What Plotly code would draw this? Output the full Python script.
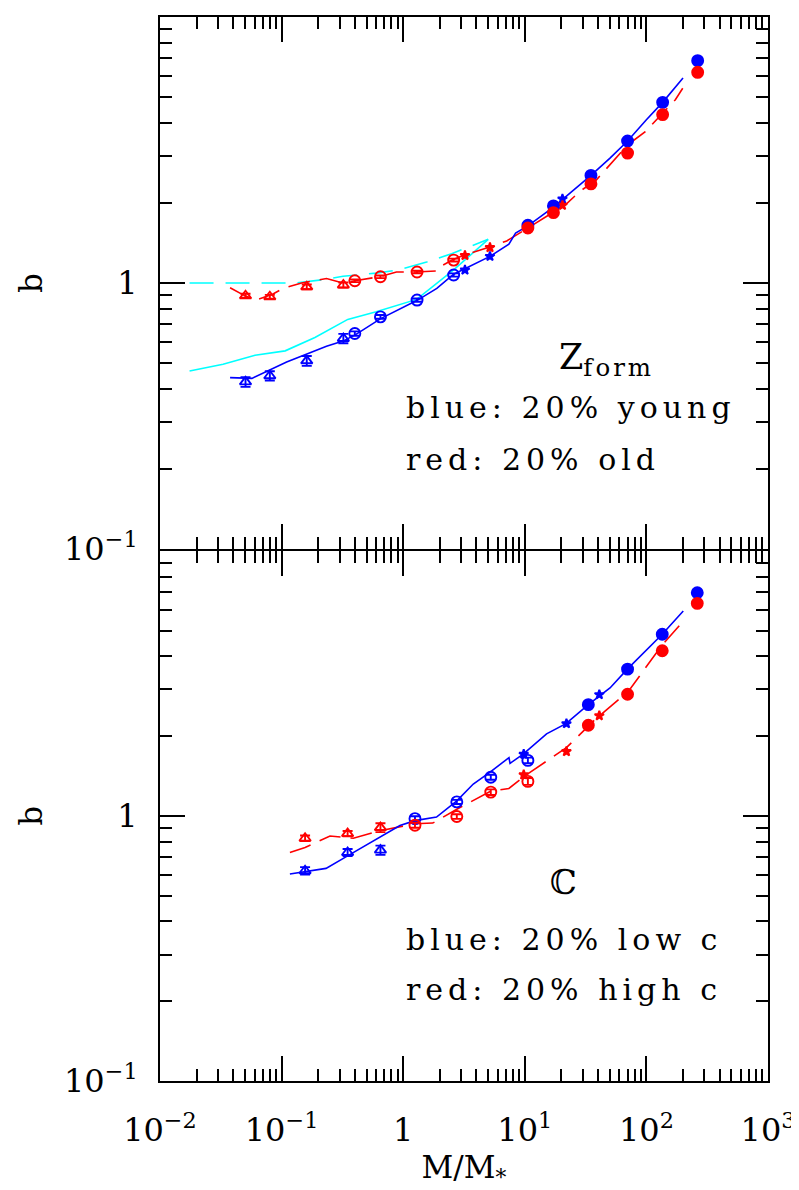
import plotly.graph_objects as go

# ---------------- data ----------------
# top panel: formation redshift split
zf_tri_x = [0.0505, 0.080, 0.161, 0.322]
zf_tri_blue = [0.425, 0.448, 0.51, 0.619]
zf_tri_blue_err = [0.018, 0.018, 0.022, 0.025]
zf_tri_red = [0.896, 0.888, 0.968, 0.983]
zf_tri_red_err = [0.015, 0.015, 0.02, 0.022]

zf_oc_x = [0.40, 0.65, 1.30, 2.60]
zf_oc_blue = [0.646, 0.746, 0.863, 1.072]
zf_oc_red = [1.02, 1.056, 1.10, 1.22]
zf_oc_err = [0.012, 0.012, 0.012, 0.015]

zf_st_x = [3.22, 5.17, 20.4]
zf_st_blue = [1.12, 1.26, 2.07]
zf_st_red = [1.27, 1.36, 1.96]

zf_fc_x = [10.6, 17.2, 35.0, 70.0, 136.0, 264.0]
zf_fc_blue = [1.65, 1.95, 2.54, 3.42, 4.78, 6.86]
zf_fc_red = [1.61, 1.84, 2.36, 3.08, 4.30, 6.20]

zf_blue_line_x = [0.0377, 0.057, 0.110, 0.234, 0.32, 0.406, 0.653, 1.315, 1.89, 2.6,
                  5.17, 7.4, 8.4, 10.6, 17.2, 20.1, 35.0, 50.2, 70.0, 100.0, 136.0, 200.0]
zf_blue_line_y = [0.441, 0.438, 0.505, 0.579, 0.605, 0.64, 0.735, 0.863, 0.955, 1.08,
                  1.26, 1.40, 1.54, 1.64, 1.93, 2.05, 2.54, 2.95, 3.42, 4.11, 4.78, 5.9]

zf_red_line_x = [0.0377, 0.050, 0.062, 0.085, 0.103, 0.146, 0.234, 0.32, 0.40, 0.50, 0.64,
                 0.88, 1.27, 1.89, 2.0, 2.53, 3.1, 5.0, 7.1, 10.6, 17.2, 21.9, 28.3,
                 38.7, 70.2, 98.0, 173.0, 199.0]
zf_red_line_y = [0.96, 0.895, 0.863, 0.909, 0.955, 1.0, 1.04, 1.0, 1.02, 1.04, 1.056,
                 1.10, 1.10, 1.11, 1.15, 1.22, 1.27, 1.36, 1.44, 1.61, 1.84, 1.98, 2.21,
                 2.44, 3.31, 3.71, 4.89, 5.40]

zf_cyan_solid_x = [0.0175, 0.033, 0.0605, 0.107, 0.188, 0.35, 0.60, 1.29, 2.6, 5.0]
zf_cyan_solid_y = [0.467, 0.495, 0.535, 0.556, 0.624, 0.73, 0.78, 0.868, 1.12, 1.46]

zf_cyan_dash_x = [0.0175, 0.13, 0.22, 0.32, 0.60, 0.91, 1.56, 2.5, 5.0]
zf_cyan_dash_y = [1.0, 1.0, 1.03, 1.06, 1.09, 1.12, 1.20, 1.29, 1.46]

# bottom panel: concentration split
c_tri_x = [0.156, 0.349, 0.65]
c_tri_blue = [0.621, 0.728, 0.743]
c_tri_blue_err = [0.02, 0.022, 0.03]
c_tri_red = [0.824, 0.858, 0.904]
c_tri_red_err = [0.02, 0.02, 0.035]

c_oc_x = [1.25, 2.76, 5.25, 10.6]
c_oc_blue = [0.977, 1.13, 1.40, 1.62]
c_oc_red = [0.923, 0.995, 1.23, 1.35]
c_oc_err = [0.02, 0.02, 0.03, 0.04]

c_st_x = [9.8, 22.0, 41.0]
c_st_blue = [1.71, 2.23, 2.87]
c_st_red = [1.43, 1.75, 2.39]

c_fc_x = [33.3, 70.0, 135.0, 262.0]
c_fc_blue = [2.63, 3.58, 4.85, 6.95]
c_fc_red = [2.20, 2.88, 4.20, 6.34]

c_blue_line_x = [0.117, 0.232, 0.349, 0.94, 1.25, 1.88, 2.76, 3.77, 5.25, 7.41, 7.56,
                 9.7, 15.1, 21.8, 33.3, 50.2, 69.7, 135.0, 201.0]
c_blue_line_y = [0.604, 0.634, 0.707, 0.92, 0.96, 0.99, 1.14, 1.32, 1.47, 1.66, 1.58,
                 1.71, 2.04, 2.23, 2.63, 3.04, 3.58, 4.85, 5.93]

c_red_line_x = [0.117, 0.156, 0.25, 0.389, 0.65, 1.25, 1.75, 2.76, 5.25, 7.4, 10.3,
                22.0, 36.7, 71.0, 135.0, 201.0]
c_red_line_y = [0.728, 0.76, 0.84, 0.824, 0.88, 0.935, 0.94, 1.06, 1.24, 1.27, 1.43,
                1.81, 2.28, 2.95, 4.42, 5.43]

# tick labels
x_tickvals = [0.01, 0.1, 1, 10, 100, 1000]
x_ticktext = ["10<sup>\u22122</sup>", "10<sup>\u22121</sup>", "1",
              "10<sup>1</sup>", "10<sup>2</sup>", "10<sup>3</sup>"]
y_tickvals = [0.1, 1, 10]
y_ticktext_top = ["10<sup>\u22121</sup>", "1", "10<sup>1</sup>"]
y_ticktext_bot = ["10<sup>\u22121</sup>", "1", ""]

# ---------------- figure ----------------
BLUE = "#0000ff"
RED = "#ff0000"
CYAN = "#00ffff"
FONT = "DejaVu Serif"
LW = 1.8

fig = go.Figure()


def line(x, y, color, dash, xa, ya):
    fig.add_trace(go.Scatter(x=x, y=y, mode="lines", xaxis=xa, yaxis=ya,
                             line=dict(color=color, width=1.6, dash=dash),
                             showlegend=False, hoverinfo="skip"))


def pts(x, y, color, symbol, size, xa, ya, err=None):
    fig.add_trace(go.Scatter(
        x=x, y=y, mode="markers", xaxis=xa, yaxis=ya,
        marker=dict(color=color, symbol=symbol, size=size,
                    line=dict(color=color, width=1.9)),
        error_y=dict(type="data", array=err, visible=err is not None,
                     color=color, thickness=1.9, width=5),
        showlegend=False))


# top panel
line(zf_cyan_dash_x, zf_cyan_dash_y, CYAN, "24px,12px", "x", "y")
line(zf_cyan_solid_x, zf_cyan_solid_y, CYAN, "solid", "x", "y")
line(zf_red_line_x, zf_red_line_y, RED, "22px,10px", "x", "y")
line(zf_blue_line_x, zf_blue_line_y, BLUE, "solid", "x", "y")
pts(zf_tri_x, zf_tri_blue, BLUE, "triangle-up-open", 10, "x", "y", zf_tri_blue_err)
pts(zf_tri_x, zf_tri_red, RED, "triangle-up-open", 10, "x", "y", zf_tri_red_err)
pts(zf_oc_x, zf_oc_blue, BLUE, "circle-open", 11, "x", "y", zf_oc_err)
pts(zf_oc_x, zf_oc_red, RED, "circle-open", 11, "x", "y", zf_oc_err)
pts(zf_st_x, zf_st_blue, BLUE, "star", 7, "x", "y")
pts(zf_st_x, zf_st_red, RED, "star", 7, "x", "y")
pts(zf_fc_x, zf_fc_blue, BLUE, "circle", 11, "x", "y")
pts(zf_fc_x, zf_fc_red, RED, "circle", 11, "x", "y")

# bottom panel
line(c_red_line_x, c_red_line_y, RED, "22px,10px", "x2", "y2")
line(c_blue_line_x, c_blue_line_y, BLUE, "solid", "x2", "y2")
pts(c_tri_x, c_tri_blue, BLUE, "triangle-up-open", 10, "x2", "y2", c_tri_blue_err)
pts(c_tri_x, c_tri_red, RED, "triangle-up-open", 10, "x2", "y2", c_tri_red_err)
pts(c_oc_x, c_oc_blue, BLUE, "circle-open", 11, "x2", "y2", c_oc_err)
pts(c_oc_x, c_oc_red, RED, "circle-open", 11, "x2", "y2", c_oc_err)
pts(c_st_x, c_st_blue, BLUE, "star", 7, "x2", "y2")
pts(c_st_x, c_st_red, RED, "star", 7, "x2", "y2")
pts(c_fc_x, c_fc_blue, BLUE, "circle", 11, "x2", "y2")
pts(c_fc_x, c_fc_red, RED, "circle", 11, "x2", "y2")

minor_x = [m * 10 ** e for e in range(-2, 3) for m in range(2, 10)]
minor_y = [m * 10 ** e for e in range(-1, 1) for m in range(2, 10)]

tickfont = dict(family=FONT, size=32, color="black")
common = dict(type="log", showgrid=False, zeroline=False, showline=True,
              linecolor="black", linewidth=LW, mirror="allticks",
              ticks="inside", ticklen=25, tickwidth=1.5, tickcolor="black",
              tickmode="array", tickfont=tickfont, automargin=False,
              minor=dict(tickmode="array", ticks="inside", ticklen=12,
                         tickwidth=1.5, tickcolor="black", showgrid=False))

xa = dict(common, range=[-2, 3], tickvals=x_tickvals, ticktext=x_ticktext)
xa["minor"] = dict(common["minor"], tickvals=minor_x)
ya = dict(common, range=[-1, 1.0004], tickvals=y_tickvals)
ya["minor"] = dict(common["minor"], tickvals=minor_y)

PH = 1064.0  # plot area height in px
# axis lines sit half a line width outside each panel; shift the lower panel
# down by one line width so the two separator lines coincide
split_lo = 0.5 - LW / PH

# the page body adds an 8px margin, so the figure is offset by it
fig.update_layout(
    width=791, height=1182,
    margin=dict(l=152, r=31, t=9, b=109, autoexpand=False),
    paper_bgcolor="white", plot_bgcolor="white",
    font=dict(family=FONT, color="black"),
    xaxis=dict(xa, domain=[0, 1], anchor="y", showticklabels=False),
    yaxis=dict(ya, domain=[0.5, 1], anchor="x", ticktext=y_ticktext_top,
               ticklabelstandoff=14,
               title=dict(text="b", font=dict(family=FONT, size=31), standoff=12)),
    xaxis2=dict(xa, domain=[0, 1], anchor="y2", ticklabelstandoff=20,
                title=dict(text="M/M<sub>*</sub>", font=dict(family=FONT, size=31),
                           standoff=14)),
    yaxis2=dict(ya, domain=[0, split_lo], anchor="x2", ticktext=y_ticktext_bot,
                ticklabelstandoff=14,
                title=dict(text="b", font=dict(family=FONT, size=31), standoff=12)),
)

ann_font = dict(family=FONT, size=30, color="black")
sp = '<span style="letter-spacing:5px">%s</span>'


def note(text, xpx, ypx, xanchor="left", size=30):
    # xpx, ypx: page pixel position; plot area spans 160..768 and 17..1081
    fig.add_annotation(text=text, xref="paper", yref="paper",
                       x=(xpx - 160) / 608.0, y=(1081 - ypx) / PH,
                       xanchor=xanchor, yanchor="middle", showarrow=False,
                       font=dict(ann_font, size=size))


note('Z<sub><span style="letter-spacing:3px">form</span></sub>', 606, 360,
     xanchor="center", size=35)
note(sp % "blue: 20% young", 404, 408)
note(sp % "red: 20% old", 404, 460)
note("\u2102", 563, 882, xanchor="center", size=34)
note(sp % "blue: 20% low c", 404, 940)
note(sp % "red: 20% high c", 404, 989)

fig.write_html("out.html")
